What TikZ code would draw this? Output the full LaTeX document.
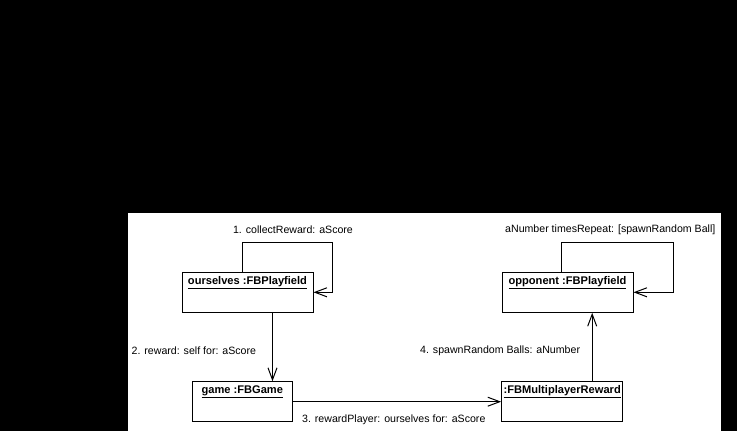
\documentclass[tikz,border=0pt]{standalone}
\usepackage{fontspec}
\setmainfont{Liberation Sans}
\usetikzlibrary{arrows.meta}
\usetikzlibrary{positioning}
\tikzset{objbox/.style={rectangle,draw,line width=1pt,minimum height=40,inner sep=0}}
\tikzset{objname/.style={anchor=north,inner sep=0,yshift=-4,font=\fontsize{11.1}{13}\selectfont\bfseries}}
\tikzset{msgtext/.style={inner sep=0,font=\fontsize{10.6}{12}\selectfont}}
\tikzset{msg/.style={line width=1pt,-{Straight Barb[length=12pt,width=9pt,line width=1pt]}}}

\begin{document}
\begin{tikzpicture}[x=1pt,y=-1pt]
        \fill[black] (0,0) rectangle (737,431);
        \fill[white] (128,213) rectangle (721,431);

        % Objects
        \node[objbox,minimum width=131,label={[objname,name=oursname]north:\underline{ourselves :FBPlayfield}}] (ours) at (247.5,292.3) {};
        \node[objbox,minimum width=131,label={[objname,name=oppname]north:\underline{opponent :FBPlayfield}}] (opp) at (567.5,292.3) {};
        \node[objbox,minimum width=100,label={[objname,name=gamename]north:\underline{game :FBGame}}] (game) at (242.3,401.7) {};
        \node[objbox,minimum width=121,label={[objname,name=mrname]north:\underline{:FBMultiplayerReward}}] (mr) at (562.2,401.7) {};

        % Self messages
        \draw[msg] ([xshift=-5pt]ours.north) |- ([xshift=19pt,yshift=50pt]ours.east) |- (ours.east);
        \draw[msg] ([xshift=-6pt]opp.north) |- ([xshift=40pt,yshift=50pt]opp.east) |- (opp.east);

        % Messages between objects
        \draw[msg] ([xshift=25pt]ours.south) -- ([xshift=25pt]ours.south |- game.north);
        \draw[msg] (game.east) -- (mr.west);
        \draw[msg] ([xshift=30pt]mr.north) -- ([xshift=30pt]mr.north |- opp.south);

        % Message labels
        \node[msgtext] (m1) at (293,230) {1. collectReward: aScore};
        \node[msgtext,anchor=west] (m0) at (505,230) {aNumber timesRepeat: [spawnRandom Ball]};
        \node[msgtext,anchor=west] (m2) at (131.5,351) {2. reward: self for: aScore};
        \node[msgtext,anchor=west] (m3) at (302,420) {3. rewardPlayer: ourselves for: aScore};
        \node[msgtext,anchor=west] (m4) at (420,351) {4. spawnRandom Balls: aNumber};
\end{tikzpicture}
\end{document}
